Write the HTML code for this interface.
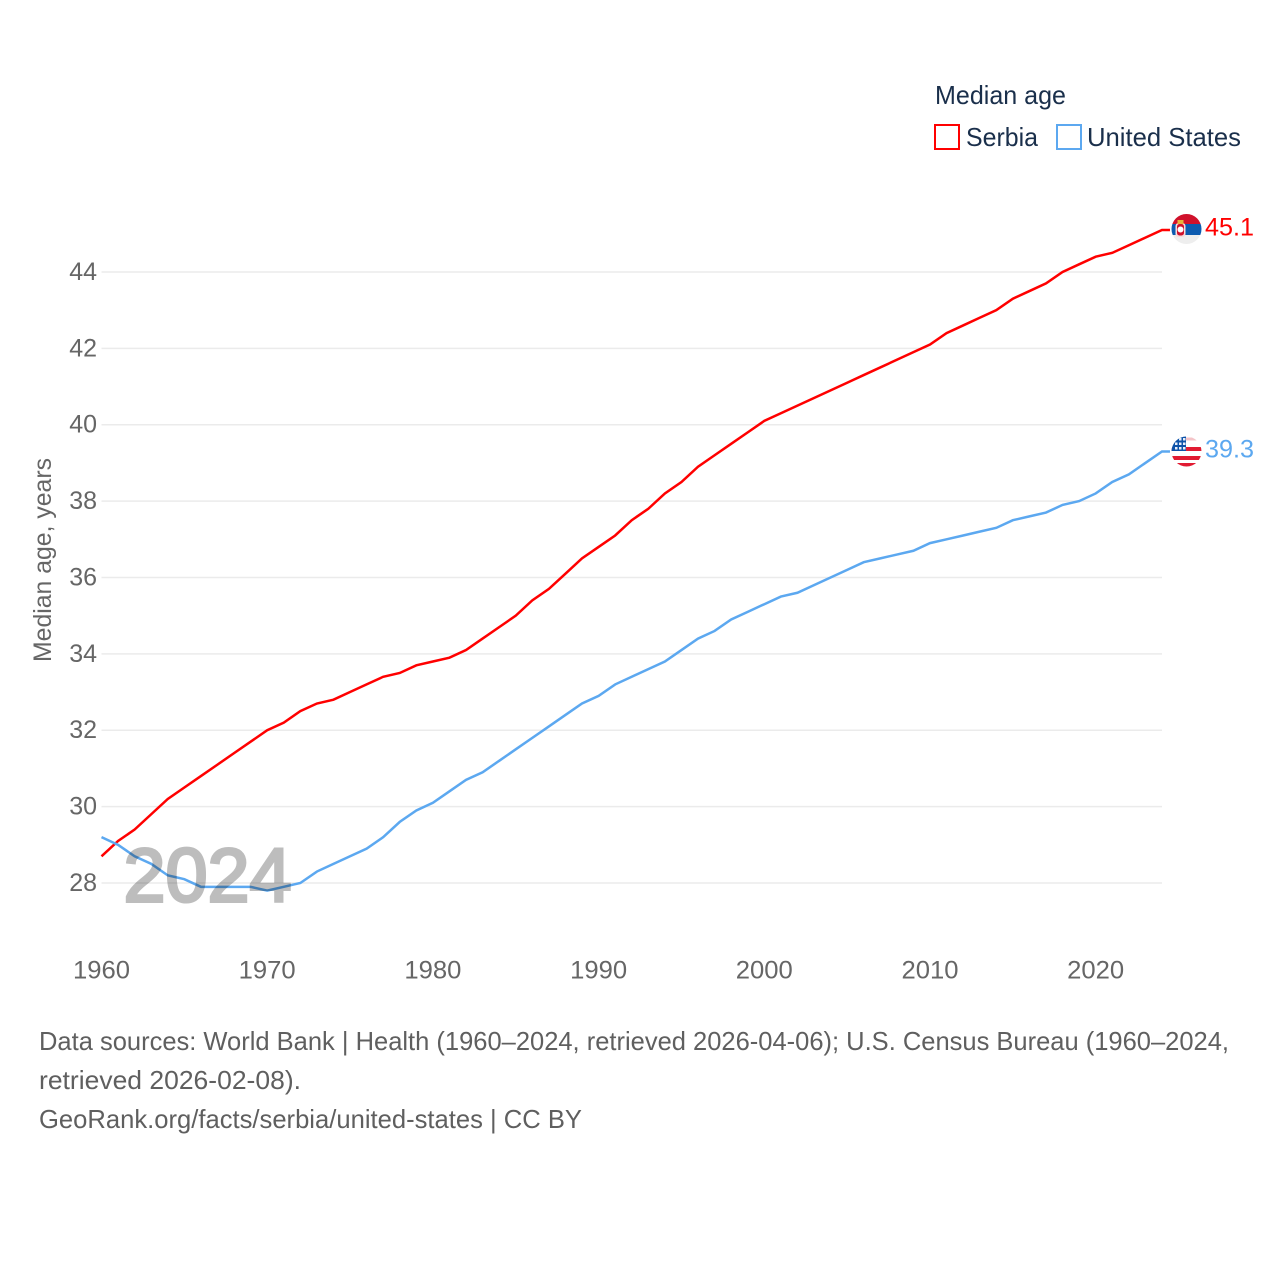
<!DOCTYPE html>
<html lang="en">
<head>
<meta charset="utf-8">
<title>Median age: Serbia and United States</title>
<style>
html,body{margin:0;padding:0;background:#fff;width:1280px;height:1280px;overflow:hidden}
svg{display:block}
text{font-family:"Liberation Sans",sans-serif}
.tick{font-size:25px;fill:#666}
.foot{font-size:26px;fill:#5f5f5f}
.leg{font-size:26px;fill:#1a2f4b}
</style>
</head>
<body>
<svg id="chart" xmlns="http://www.w3.org/2000/svg" width="1280" height="1280" viewBox="0 0 1280 1280">
  <g id="grid"></g>
  <g id="yticks"></g>
  <g id="xticks"></g>
  <text transform="translate(51,662) rotate(-90)" font-size="25" fill="#666" textLength="204" lengthAdjust="spacingAndGlyphs">Median age, years</text>
  <g id="series"></g>
  <text x="123.500" y="901.500" font-size="76" fill="#bdbdbd" stroke="#bdbdbd" stroke-width="3" textLength="168" lengthAdjust="spacingAndGlyphs" style="mix-blend-mode:multiply">2024</text>

  <g>
    <text class="leg" x="935" y="104" textLength="131" lengthAdjust="spacingAndGlyphs">Median age</text>
    <g>
      <rect x="935" y="125" width="24" height="24" fill="#fff" stroke="#ff0000" stroke-width="2"/>
      <text class="leg" x="966" y="146" textLength="72" lengthAdjust="spacingAndGlyphs">Serbia</text>
    </g>
    <g>
      <rect x="1057" y="125" width="24" height="24" fill="#fff" stroke="#5ca8f0" stroke-width="2"/>
      <text class="leg" x="1087" y="146" textLength="154" lengthAdjust="spacingAndGlyphs">United States</text>
    </g>
  </g>

  <defs>
    <clipPath id="flagClipRs"><circle cx="1186.500" cy="229" r="15"/></clipPath>
    <clipPath id="flagClipUs"><circle cx="1186.500" cy="451.500" r="15"/></clipPath>
  </defs>

  <g id="flag-rs" clip-path="url(#flagClipRs)">
    <rect x="1171" y="214" width="31" height="31" fill="#eeeeee"/>
    <rect x="1171" y="214" width="31" height="10" fill="#d0112b"/>
    <rect x="1171" y="224" width="31" height="11" fill="#0c5bb0"/>
    <rect x="1175.500" y="223" width="10" height="14" rx="3" fill="#f6dcdc"/>
    <rect x="1177" y="224" width="7" height="11.500" rx="2.500" fill="#d0112b"/>
    <rect x="1177.500" y="220" width="6" height="4" fill="#e8b33c"/>
    <circle cx="1180.500" cy="229.500" r="3" fill="#fff"/>
  </g>

  <g id="flag-us" clip-path="url(#flagClipUs)">
    <rect x="1171" y="436" width="31" height="31" fill="#fff"/>
    <rect x="1186" y="437.500" width="16" height="3" fill="#f4c4c8"/>
    <rect x="1171" y="447" width="31" height="4" fill="#e11b32"/>
    <rect x="1171" y="456" width="31" height="4" fill="#e11b32"/>
    <rect x="1171" y="463" width="31" height="4" fill="#e11b32"/>
    <rect x="1171" y="436" width="15" height="15" fill="#0c52a8"/>
    <rect x="1179" y="438" width="2.500" height="2.500" fill="#e8eefa"/>
    <rect x="1183" y="438" width="2.500" height="2.500" fill="#e8eefa"/>
    <rect x="1175" y="442.500" width="2.500" height="2.500" fill="#e8eefa"/>
    <rect x="1179" y="442.500" width="2.500" height="2.500" fill="#e8eefa"/>
    <rect x="1183" y="442.500" width="2.500" height="2.500" fill="#e8eefa"/>
    <rect x="1175" y="447" width="2.500" height="2.500" fill="#e8eefa"/>
    <rect x="1179" y="447" width="2.500" height="2.500" fill="#e8eefa"/>
    <rect x="1183" y="447" width="2.500" height="2.500" fill="#e8eefa"/>
  </g>

  <text id="end-rs" x="1205" y="235.500" font-size="25" fill="#ff0000" textLength="49" lengthAdjust="spacingAndGlyphs"></text>
  <text id="end-us" x="1205" y="457.500" font-size="25" fill="#5ca8f0" textLength="49" lengthAdjust="spacingAndGlyphs"></text>

  <g>
    <text class="foot" x="39" y="1050" textLength="1190" lengthAdjust="spacingAndGlyphs">Data sources: World Bank | Health (1960–2024, retrieved 2026-04-06); U.S. Census Bureau (1960–2024,</text>
    <text class="foot" x="39" y="1089" textLength="262" lengthAdjust="spacingAndGlyphs">retrieved 2026-02-08).</text>
    <a><text class="foot" x="39" y="1128" textLength="543" lengthAdjust="spacingAndGlyphs">GeoRank.org/facts/serbia/united-states | CC BY</text></a>
  </g>
</svg>
<script>
const startYear = 1960;
const xTickYears = [1960, 1970, 1980, 1990, 2000, 2010, 2020];
const yTickValues = [28, 30, 32, 34, 36, 38, 40, 42, 44];
const serbiaValues = [28.7,29.1,29.4,29.8,30.2,30.5,30.8,31.1,31.4,31.7,32.0,32.2,32.5,32.7,32.8,33.0,33.2,33.4,33.5,33.7,33.8,33.9,34.1,34.4,34.7,35.0,35.4,35.7,36.1,36.5,36.8,37.1,37.5,37.8,38.2,38.5,38.9,39.2,39.5,39.8,40.1,40.3,40.5,40.7,40.9,41.1,41.3,41.5,41.7,41.9,42.1,42.4,42.6,42.8,43.0,43.3,43.5,43.7,44.0,44.2,44.4,44.5,44.7,44.9,45.1];
const unitedStatesValues = [29.2,29.0,28.7,28.5,28.2,28.1,27.9,27.9,27.9,27.9,27.8,27.9,28.0,28.3,28.5,28.7,28.9,29.2,29.6,29.9,30.1,30.4,30.7,30.9,31.2,31.5,31.8,32.1,32.4,32.7,32.9,33.2,33.4,33.6,33.8,34.1,34.4,34.6,34.9,35.1,35.3,35.5,35.6,35.8,36.0,36.2,36.4,36.5,36.6,36.7,36.9,37.0,37.1,37.2,37.3,37.5,37.6,37.7,37.9,38.0,38.2,38.5,38.7,39.0,39.3];

const NS = 'http://www.w3.org/2000/svg';
function xScale(year) { return 101.5 + (year - 1960) * 16.57; }
function yScale(v) { return 883 - (v - 28) * 38.19; }
const plotLeft = xScale(1960);
const plotRight = xScale(2024);

const gridG = document.getElementById('grid');
const yG = document.getElementById('yticks');
const xG = document.getElementById('xticks');
const seriesG = document.getElementById('series');

yTickValues.forEach(function (v) {
  const ln = document.createElementNS(NS, 'line');
  
  
  ln.setAttribute('x1', plotLeft);
  ln.setAttribute('x2', plotRight);
  ln.setAttribute('y1', yScale(v));
  ln.setAttribute('y2', yScale(v));
  ln.setAttribute('stroke', '#ebebeb');
  ln.setAttribute('stroke-width', '1.5');
  gridG.appendChild(ln);

  const t = document.createElementNS(NS, 'text');
  
  
  t.setAttribute('class', 'tick');
  t.setAttribute('x', 97);
  t.setAttribute('y', yScale(v) + 8);
  t.setAttribute('text-anchor', 'end');
  t.textContent = String(v);
  yG.appendChild(t);
});

xTickYears.forEach(function (yr) {
  const t = document.createElementNS(NS, 'text');
  
  
  t.setAttribute('class', 'tick');
  t.setAttribute('x', xScale(yr));
  t.setAttribute('y', 978.5);
  t.setAttribute('text-anchor', 'middle');
  t.setAttribute('textLength', '57');
  t.setAttribute('lengthAdjust', 'spacingAndGlyphs');
  t.textContent = String(yr);
  xG.appendChild(t);
});

function pathFor(values) {
  const pts = values.map(function (v, i) {
    return xScale(startYear + i).toFixed(2) + ',' + yScale(v).toFixed(2);
  });
  const lastV = values[values.length - 1];
  pts.push((plotRight + 8).toFixed(2) + ',' + yScale(lastV).toFixed(2));
  return 'M' + pts.join(' L');
}

const serbiaLine = document.createElementNS(NS, 'path');


serbiaLine.setAttribute('d', pathFor(serbiaValues));
serbiaLine.setAttribute('fill', 'none');
serbiaLine.setAttribute('stroke', '#ff0000');
serbiaLine.setAttribute('stroke-width', '2.5');
seriesG.appendChild(serbiaLine);

const usLine = document.createElementNS(NS, 'path');


usLine.setAttribute('d', pathFor(unitedStatesValues));
usLine.setAttribute('fill', 'none');
usLine.setAttribute('stroke', '#5ca8f0');
usLine.setAttribute('stroke-width', '2.5');
seriesG.appendChild(usLine);

document.getElementById('end-rs').textContent = serbiaValues[serbiaValues.length - 1].toFixed(1);
document.getElementById('end-us').textContent = unitedStatesValues[unitedStatesValues.length - 1].toFixed(1);
</script>
</body>
</html>
